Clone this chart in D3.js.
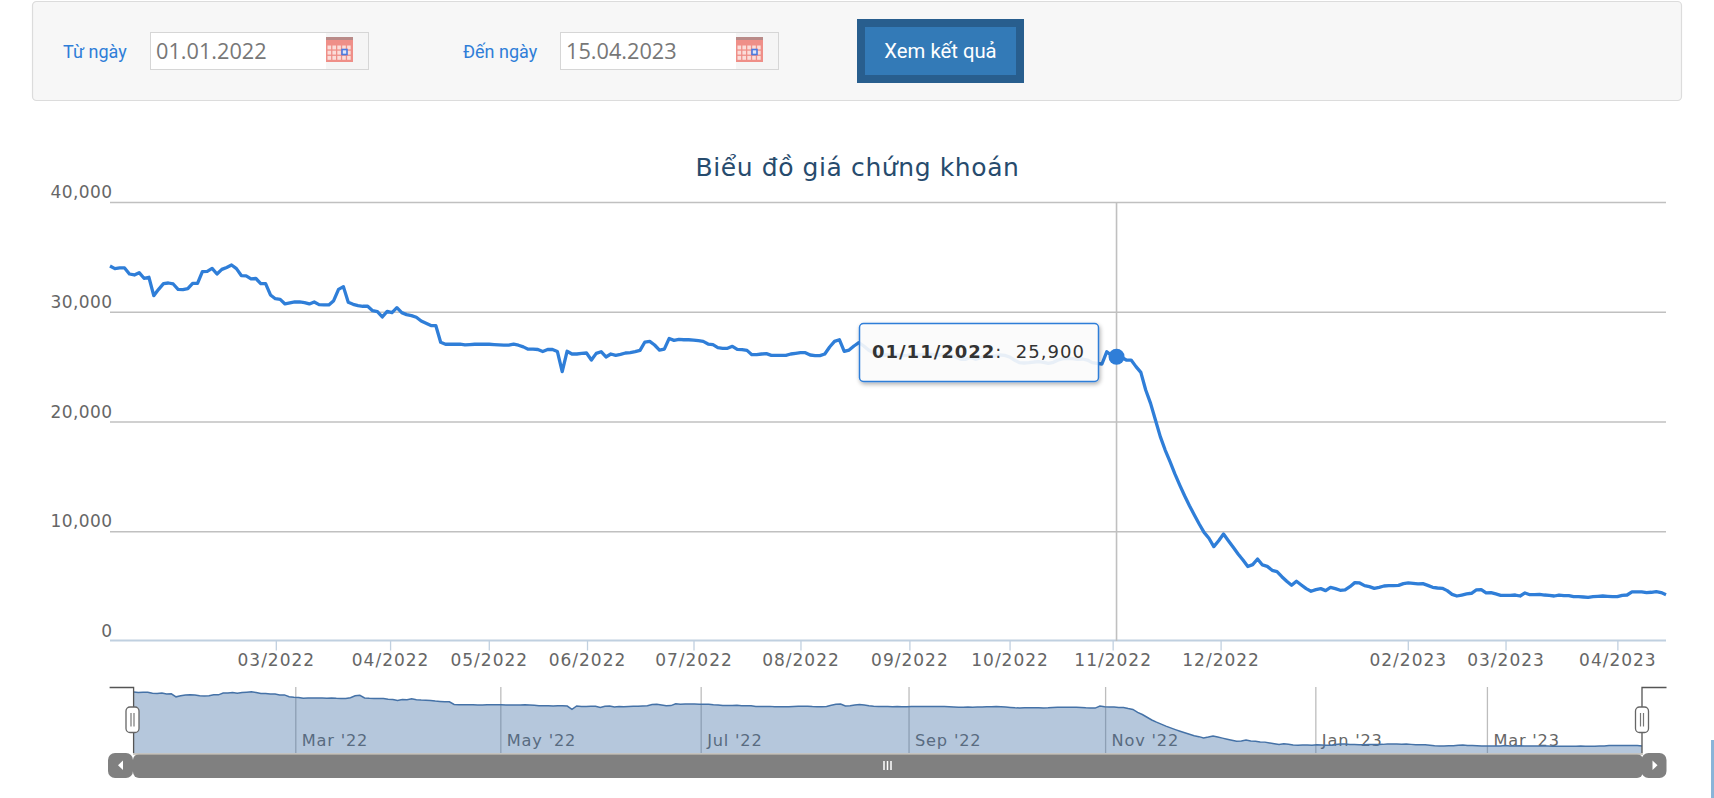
<!DOCTYPE html>
<html>
<head>
<meta charset="utf-8">
<script src="https://cdnjs.cloudflare.com/ajax/libs/d3/7.8.5/d3.min.js"></script>
<style>
	html, body { margin: 0; padding: 0; background: #fff; overflow: hidden; }
	svg { display: block; }
	text { font-family: "DejaVu Sans", sans-serif; }
</style>
</head>
<body>
<script>
// closing price per trading session
var pricesA = [34170,33930,33990,33990,33440,33350,33560,33050,33140,31470,
	32040,32560,32620,32530,32040,32010,32100,32590,32590,33650,
	33680,33950,33440,33860,34040,34260,33930,33300,33270,33000,
	33030,32560,32560,31530,31190,31130,30710,30800,30890,30890,
	30830,30710,30890,30650,30620,30620,31010,32040,32290,30860,
	30680,30560,30500,30500,30100,30010,29520,30040,29920,30370,
	29920,29740,29650,29500,29160,28950,28740,28740,27220,27040,
	27040,27040,27040,26980,27010,27040,27040,27040,27040,27010,
	26980,26950,26950,27040,26950,26800,26590,26590,26560,26380,
	26560,26560,26380,24540]
var pricesB = [26400,26150,26150,26210,26240,25600,26210,26360,25880,26150,
	26030,26120,26240,26270,26360,26480,27240,27300,26970,26510,
	26600,27570,27390,27480,27450,27450,27420,27360,27300,27060,
	27000,26730,26670,26670,26850,26580,26550,26480,26090,26090,
	26150,26180,26030,26030,26030,26030,26150,26210,26270,
	26270,26060,26000,26000,26150,26790,27300,27450,26390,26510,
	26880,27180,26880,26515,26270,26150,26060,26060,26030,26060,26000,
	26030,26150,26060,26090,26150,26120,26060,26060,26060,26030,
	25850,25665,25665,25850,25665,25820,25880,25940,25970,26060,
	26030,25880,25600,25360,25330,25360,25420,25450,25390,25300,
	25390,25600,25730,25760,25730,25665,25695,25600,25360,25300,
	25240,26360,26000,25900]
var pricesC = [25850,25600,25600,25000,24480,22870,21650,20140,18620,17400,
	16340,15220,14210,13240,12330,11480,10660,9900,9360,8600,
	9140,9750,9140,8540,7930,7380,6780,6960,7470,6930,
	6800,6440,6320,5860,5440,5070,5440,5100,4770,4530,
	4680,4770,4590,4890,4770,4620,4650,4950,5320,5290,
	5040,4950,4800,4890,5010,5040,5040,5070,5230,5290,
	5260,5200,5230,5070,4890,4830,4800,4590,4250,4100,
	4190,4290,4350,4650,4680,4380,4410,4290,4160,4160,
	4160,4190,4100,4380,4220,4220,4250,4190,4160,4100,
	4190,4130,4130,4040,4040,4010,3980,4040,4070,4100,
	4070,4040,4040,4160,4190,4470,4470,4470,4410,4440,
	4500,4410,4220]
var prices = pricesA.concat(pricesB, pricesC)

var yTicks = [0, 10000, 20000, 30000, 40000]
var monthLabels = ['03/2022','04/2022','05/2022','06/2022','07/2022','08/2022','09/2022','10/2022','11/2022','12/2022','02/2023','03/2023','04/2023']
var monthSessions = [34.1,57.6,77.9,98.1,120,142,164.4,185,206.2,228.4,266.9,287,310]
var navLabels = ["Mar '22","May '22","Jul '22","Sep '22","Nov '22","Jan '23","Mar '23"]
var navSessions = [34.3,77.8,120.3,164.4,206.1,250.7,287.1]
var hoverSession = 207
var hoverDate = '01/11/2022'
var hoverValue = '25,900'

var lineBlue = '#2f7ed8'

var svg = d3.select('body').append('svg')
	.attr('width', 1714)
	.attr('height', 798)

var defs = svg.append('defs')
var blur = defs.append('filter').attr('id', 'tipShadow').attr('x', '-5%').attr('y', '-10%').attr('width', '112%').attr('height', '130%')
blur.append('feDropShadow')
	.attr('dx', 1).attr('dy', 2).attr('stdDeviation', 2)
	.attr('flood-color', '#000').attr('flood-opacity', 0.35)

// filter panel
var panel = svg.append('g')
panel.append('rect')
	.attr('x', 32.5).attr('y', 1.5).attr('width', 1649).attr('height', 99).attr('rx', 4)
	.attr('fill', '#f7f7f7').attr('stroke', '#dcdcdc').attr('stroke-width', 1.2)

function calendarIcon(g, x, y) {
	var w = 27, h = 25
	g.append('rect').attr('x', x).attr('y', y).attr('width', w).attr('height', h).attr('fill', '#ef8f88')
	g.append('rect').attr('x', x).attr('y', y).attr('width', w).attr('height', 3).attr('fill', '#b98a88')
	d3.range(5).forEach(function(c) {
		d3.range(3).forEach(function(r) {
			g.append('rect')
				.attr('x', x + 1.5 + c * 4.9).attr('y', y + 8.5 + r * 5.2)
				.attr('width', 3.6).attr('height', 3.9)
				.attr('fill', '#fbdcd8')
		})
	})
	g.append('rect').attr('x', x + 16).attr('y', y + 12.5).attr('width', 5).attr('height', 5)
		.attr('fill', '#dfe6fa').attr('stroke', '#4a7be0').attr('stroke-width', 1.6)
}

function dateField(label, labelX, boxX, value) {
	panel.append('text').text(label)
		.attr('x', labelX).attr('y', 57.5)
		.style('font-family', 'Roboto, sans-serif')
		.style('font-size', '18px').attr('fill', lineBlue)
	panel.append('rect')
		.attr('x', boxX + 0.5).attr('y', 32.5).attr('width', 218).attr('height', 37)
		.attr('fill', '#fff').attr('stroke', '#d6d6d6')
	panel.append('rect')
		.attr('x', boxX + 176).attr('y', 33).attr('width', 42).attr('height', 36).attr('fill', '#f5f5f5')
	panel.append('text').text(value)
		.attr('x', boxX + 6).attr('y', 58.5)
		.style('font-family', '"Open Sans", sans-serif')
		.style('font-size', '21.7px').attr('fill', '#777')
	calendarIcon(panel, boxX + 176, 37)
}
dateField('Từ ngày', 63, 150, '01.01.2022')
dateField('Đến ngày', 463, 560, '15.04.2023')

panel.append('rect')
	.attr('x', 857).attr('y', 19).attr('width', 167).attr('height', 64).attr('fill', '#285e8e')
panel.append('rect')
	.attr('x', 865).attr('y', 27).attr('width', 151).attr('height', 48).attr('fill', '#337ab7')
panel.append('text').text('Xem kết quả')
	.attr('x', 940.5).attr('y', 58).attr('text-anchor', 'middle')
	.style('font-family', 'Roboto, sans-serif')
	.style('font-size', '20.3px').attr('fill', '#fff')

// title
svg.append('text').text('Biểu đồ giá chứng khoán')
	.attr('x', 857.5).attr('y', 176).attr('text-anchor', 'middle')
	.style('font-size', '25px').style('letter-spacing', '0.6px').attr('fill', '#274b6d')

// main chart
var x = d3.scaleLinear().domain([0, prices.length - 1]).range([110, 1666])
var y = d3.scaleLinear().domain([0, 40000]).range([641, 202])

var yAxis = svg.append('g')
	.attr('transform', 'translate(110,0)')
	.call(d3.axisLeft(y).tickValues(yTicks).tickSize(-1556).tickFormat(d3.format(',')))
yAxis.select('.domain').remove()
yAxis.selectAll('line').attr('stroke', '#c0c0c0').attr('stroke-width', 1.3)
yAxis.selectAll('line').filter(function(d) { return d === 0 }).attr('stroke', 'none')
yAxis.selectAll('text')
	.attr('x', 2.5).attr('y', -4.5).attr('dy', 0)
	.attr('text-anchor', 'end')
	.attr('fill', '#666')
	.style('font-size', '17px').style('letter-spacing', '0.4px')

var xAxis = svg.append('g')
	.attr('transform', 'translate(0,640.5)')
	.call(d3.axisBottom(x).tickValues(monthSessions).tickSize(10).tickFormat(function(d, i) { return monthLabels[i] }))
xAxis.select('.domain').attr('d', 'M110,0H1666').attr('stroke', '#c0d0e0').attr('stroke-width', 2)
xAxis.selectAll('line').attr('stroke', '#c0d0e0').attr('stroke-width', 1.3)
xAxis.selectAll('text')
	.attr('y', 25).attr('dy', 0).attr('fill', '#666')
	.style('font-size', '17px').style('letter-spacing', '1px')

// crosshair
svg.append('line')
	.attr('x1', x(hoverSession)).attr('x2', x(hoverSession))
	.attr('y1', 202).attr('y2', 641)
	.attr('stroke', '#c0c0c0').attr('stroke-width', 1.6)

var line = d3.line()
	.x(function(d, i) { return x(i) })
	.y(function(d) { return y(d) })

svg.append('path')
	.attr('d', line(prices))
	.attr('fill', 'none')
	.attr('stroke', lineBlue)
	.attr('stroke-width', 3.3)
	.attr('stroke-linejoin', 'round')

svg.append('circle')
	.attr('cx', x(hoverSession)).attr('cy', y(prices[hoverSession])).attr('r', 8)
	.attr('fill', lineBlue)

// tooltip
var tip = svg.append('g')
tip.append('rect')
	.attr('x', 859.5).attr('y', 323.5).attr('width', 239).attr('height', 58).attr('rx', 4)
	.attr('fill', 'rgba(255,255,255,0.87)')
	.attr('stroke', lineBlue).attr('stroke-width', 1.5)
	.attr('filter', 'url(#tipShadow)')
var tipText = tip.append('text')
	.attr('x', 872).attr('y', 357.5)
	.attr('fill', '#333')
	.style('font-size', '18px').style('letter-spacing', '1px')
tipText.append('tspan').text(hoverDate).style('font-weight', 'bold')
tipText.append('tspan').text(':  ' + hoverValue).style('white-space', 'pre')

// navigator
var navX = d3.scaleLinear().domain([0, prices.length - 1]).range([133.6, 1642])
var navY = d3.scaleLinear().domain([0, 40000]).range([753.5, 681.5])

var navAxis = svg.append('g')
	.attr('transform', 'translate(0,753)')
	.call(d3.axisTop(navX).tickValues(navSessions).tickSize(66).tickFormat(function(d, i) { return navLabels[i] }))
navAxis.select('.domain').remove()
navAxis.selectAll('line').attr('stroke', '#bdbdbd').attr('stroke-width', 1.3)
navAxis.selectAll('text')
	.attr('x', 6).attr('y', -7).attr('dy', 0)
	.attr('text-anchor', 'start').attr('fill', '#666')
	.style('font-size', '16.2px').style('letter-spacing', '0.8px')

var navArea = d3.area()
	.x(function(d, i) { return navX(i) })
	.y0(navY(0))
	.y1(function(d) { return navY(d) })
var navLine = d3.line()
	.x(function(d, i) { return navX(i) })
	.y(function(d) { return navY(d) })

svg.append('path')
	.attr('d', navArea(prices))
	.attr('fill', '#4572a7').attr('fill-opacity', 0.4)
svg.append('path')
	.attr('d', navLine(prices))
	.attr('fill', 'none').attr('stroke', '#4572a7').attr('stroke-width', 1.5)

// navigator handles
var handleColor = '#555'
var navG = svg.append('g')
navG.append('path')
	.attr('d', 'M109.6,687.5H133.6V753')
	.attr('fill', 'none').attr('stroke', handleColor).attr('stroke-width', 1.3)
navG.append('path')
	.attr('d', 'M1666.5,687.5H1642V753')
	.attr('fill', 'none').attr('stroke', handleColor).attr('stroke-width', 1.3)

function navHandle(cx) {
	navG.append('rect')
		.attr('x', cx - 6.5).attr('y', 707).attr('width', 13).attr('height', 25.5).attr('rx', 4)
		.attr('fill', '#fff').attr('stroke', '#666').attr('stroke-width', 1.3)
	;[-1.5, 1.5].forEach(function(dx) {
		navG.append('line')
			.attr('x1', cx + dx).attr('x2', cx + dx).attr('y1', 713).attr('y2', 726.5)
			.attr('stroke', '#777').attr('stroke-width', 1.2)
	})
}
navHandle(132.5)
navHandle(1642)

// scrollbar
var bar = svg.append('g')
bar.append('rect')
	.attr('x', 133).attr('y', 754).attr('width', 1510).attr('height', 24).attr('rx', 6)
	.attr('fill', '#808080')
bar.append('line')
	.attr('x1', 133).attr('x2', 1643).attr('y1', 754).attr('y2', 754)
	.attr('stroke', '#bdb8b0').attr('stroke-width', 1.5)
bar.append('rect')
	.attr('x', 108).attr('y', 753).attr('width', 25).attr('height', 25).attr('rx', 7)
	.attr('fill', '#808080')
bar.append('rect')
	.attr('x', 1641.5).attr('y', 753).attr('width', 25).attr('height', 25).attr('rx', 7)
	.attr('fill', '#808080')
bar.append('path').attr('d', 'M123,760.5V770L118,765.2Z').attr('fill', '#fff')
bar.append('path').attr('d', 'M1652.5,760.5V770L1657.5,765.2Z').attr('fill', '#fff')
;[-3.5, 0, 3.5].forEach(function(dx) {
	bar.append('line')
		.attr('x1', 887.5 + dx).attr('x2', 887.5 + dx).attr('y1', 761).attr('y2', 770)
		.attr('stroke', '#fff').attr('stroke-width', 1.5)
})

// bit of the page scrollbar showing at the corner
svg.append('rect')
	.attr('x', 1711).attr('y', 740).attr('width', 3).attr('height', 58)
	.attr('fill', '#8ab4d8')
</script>
</body>
</html>
